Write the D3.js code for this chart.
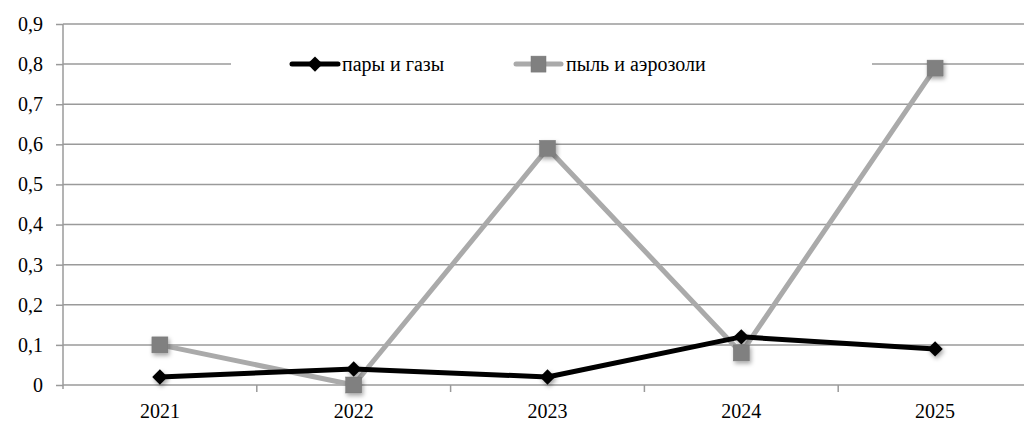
<!DOCTYPE html>
<html>
<head>
<meta charset="utf-8">
<script src="https://cdn.jsdelivr.net/npm/d3@7"></script>
<style>
  html, body { margin: 0; padding: 0; background: #fff; }
  svg { display: block; }
  svg text { font-family: "Liberation Serif", "DejaVu Serif", serif; }
</style>
</head>
<body>
<svg id="chart" width="1024" height="424"></svg>
<script>
// Years along the x axis
const years = ["2021", "2022", "2023", "2024", "2025"];
// Series values
const vaporsGases = [0.02, 0.04, 0.02, 0.12, 0.09];
const dustAerosols = [0.10, 0.00, 0.59, 0.08, 0.79];
// Y axis tick values
const yTicks = [0, 0.1, 0.2, 0.3, 0.4, 0.5, 0.6, 0.7, 0.8, 0.9];
const seriesNames = ["пары и газы", "пыль и аэрозоли"];

const FONT = "Liberation Serif";
const FS = 20;

const svg = d3.select("#chart");
const W = 1024, H = 424;
const plotLeft = 63, plotRight = 1032, plotTop = 24, plotBottom = 385;

const x = d3.scaleBand().domain(years).range([plotLeft, plotRight]);
const y = d3.scaleLinear().domain([0, 0.9]).range([plotBottom, plotTop]);

const defs = svg.append("defs");
const f = defs.append("filter").attr("id", "shadow")
  .attr("x", "-50%").attr("y", "-50%").attr("width", "200%").attr("height", "200%");
f.append("feDropShadow").attr("dx", 1.5).attr("dy", 2.5).attr("stdDeviation", 2)
  .attr("flood-color", "#000").attr("flood-opacity", 0.35);

const gridColor = "#9a9a9a";

// Horizontal gridlines
svg.append("g").selectAll("line").data(yTicks.filter(d => d > 0)).join("line")
  .attr("x1", plotLeft).attr("x2", W)
  .attr("y1", d => y(d)).attr("y2", d => y(d))
  .attr("stroke", gridColor).attr("stroke-width", 1.5);

// Y axis
const fmt = d => d === 0 ? "0" : d3.format(".1f")(d).replace(".", ",");
const yAxis = svg.append("g").attr("transform", `translate(${plotLeft},0)`)
  .call(d3.axisLeft(y).tickValues(yTicks).tickFormat(fmt).tickSize(7).tickPadding(13));
yAxis.attr("font-family", FONT).attr("font-size", FS);
yAxis.select(".domain").attr("stroke", gridColor).attr("stroke-width", 1.5)
  .attr("d", `M0,${plotTop}V${plotBottom + 4}`);
yAxis.selectAll(".tick line").attr("stroke", gridColor).attr("stroke-width", 1.5);
yAxis.selectAll(".tick text").attr("fill", "#000");

// X axis with tick marks on category boundaries
const xAxis = svg.append("g").attr("transform", `translate(0,${plotBottom})`)
  .attr("font-family", FONT).attr("font-size", FS);
xAxis.append("line").attr("x1", plotLeft).attr("x2", W).attr("y1", 0).attr("y2", 0)
  .attr("stroke", gridColor).attr("stroke-width", 1.5);
xAxis.selectAll("line.tk").data(years.slice(1)).join("line").attr("class", "tk")
  .attr("x1", d => x(d)).attr("x2", d => x(d)).attr("y1", 0).attr("y2", 7)
  .attr("stroke", gridColor).attr("stroke-width", 1.5);
xAxis.selectAll("text").data(years).join("text")
  .attr("x", d => x(d) + x.bandwidth() / 2).attr("y", 33)
  .attr("text-anchor", "middle").text(d => d);

const cx = d => x(d) + x.bandwidth() / 2;
const line = d3.line().x((d, i) => cx(years[i])).y(d => y(d));

// Legend box (drawn over the 0.8 gridline)
const legendY = y(0.8);
svg.append("rect").attr("x", 231).attr("y", legendY - 14).attr("width", 641).attr("height", 28).attr("fill", "#fff");

const diamond = d3.symbol().type(d3.symbolDiamond2).size(150);
const dustColor = "#aaaaaa", dustMarker = "#808080";

// Dust & aerosols series
svg.append("path").datum(dustAerosols).attr("d", line)
  .attr("fill", "none").attr("stroke", dustColor).attr("stroke-width", 5).attr("stroke-linejoin", "round");
// Vapors & gases series
svg.append("path").datum(vaporsGases).attr("d", line)
  .attr("fill", "none").attr("stroke", "#000").attr("stroke-width", 5).attr("stroke-linejoin", "round");

svg.append("g").selectAll("path").data(vaporsGases).join("path")
  .attr("transform", (d, i) => `translate(${cx(years[i])},${y(d)})`)
  .attr("d", diamond).attr("fill", "#000").attr("filter", "url(#shadow)");

svg.append("g").selectAll("rect").data(dustAerosols).join("rect")
  .attr("x", (d, i) => cx(years[i]) - 8).attr("y", d => y(d) - 8)
  .attr("width", 16).attr("height", 16)
  .attr("fill", dustMarker).attr("stroke", "#777").attr("stroke-width", 0.5)
  .attr("filter", "url(#shadow)");

// Legend entries
const lg = svg.append("g").attr("font-family", FONT).attr("font-size", FS);
lg.append("line").attr("x1", 292).attr("x2", 338).attr("y1", legendY).attr("y2", legendY)
  .attr("stroke", "#000").attr("stroke-width", 5).attr("stroke-linecap", "round");
lg.append("path").attr("transform", `translate(315,${legendY})`).attr("d", diamond).attr("fill", "#000");
lg.append("text").attr("x", 342).attr("y", legendY + 7).text(seriesNames[0]);

lg.append("line").attr("x1", 516).attr("x2", 561).attr("y1", legendY).attr("y2", legendY)
  .attr("stroke", dustColor).attr("stroke-width", 5).attr("stroke-linecap", "round");
lg.append("rect").attr("x", 531).attr("y", legendY - 8).attr("width", 15).attr("height", 16)
  .attr("fill", dustMarker).attr("stroke", "#777").attr("stroke-width", 0.5);
lg.append("text").attr("x", 566).attr("y", legendY + 7).text(seriesNames[1]);
</script>
</body>
</html>
